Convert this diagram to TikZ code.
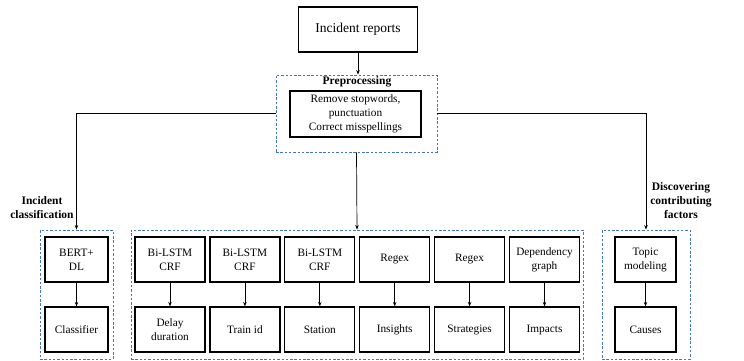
\documentclass[tikz,border=0pt]{standalone}
\usepackage{fontspec}
\setmainfont{Liberation Serif}
\usetikzlibrary{arrows.meta}
\definecolor{dashblue}{RGB}{68,114,196}
\tikzset{
  base/.style={font=\fontsize{11.3}{14}\selectfont, align=center, inner sep=0pt},
  box/.style={base, draw=black, line width=1.2pt, minimum height=45pt},
  grp/.style={draw=dashblue, line width=0.9pt, dash pattern=on 2.5pt off 1.8pt, inner sep=0pt},
  lbl/.style={base, font=\fontsize{11.5}{14}\selectfont\bfseries},
  arr/.style={draw=black, line width=0.7pt, -{Stealth[length=4.5pt,width=3.5pt]}},
  ln/.style={draw=black, line width=0.7pt}
}
\begin{document}
\begin{tikzpicture}[x=1pt,y=-1pt]
\useasboundingbox (0,0) rectangle (744,360);
% top
\node[box, minimum width=119pt, font=\fontsize{13.5}{16}\selectfont] (rep) at (358,29.5) {Incident reports};
\node[grp, minimum width=161pt, minimum height=77pt] (pre) at (356.5,113.5) {};
\node[lbl] (prelbl) at (357,82) {Preprocessing};
\node[box, minimum width=131pt, minimum height=46pt] (pin) at (355.5,114) {Remove stopwords,\\punctuation\\Correct misspellings};
\draw[arr] (rep.south) -- (pre.north -| rep.south);
% groups
\node[grp, minimum width=73pt, minimum height=129pt] (gl) at (76.5,294.5) {};
\node[grp, minimum width=452pt, minimum height=129pt] (gm) at (357,294.5) {};
\node[grp, minimum width=88pt, minimum height=129pt] (gr) at (646,294.5) {};
\draw[arr] (pre.west) -| (gl.north);
\draw[arr] (pre.east) -| (gr.north);
\draw[arr] (pre.south) -- (gm.north);
\node[lbl] (lcls) at (42,207.5) {Incident\\classification};
\node[lbl] (ldis) at (681,200.5) {Discovering\\contributing\\factors};
% left group
\node[box, minimum width=63pt] (bert) at (76.5,259.5) {BERT+\\DL};
\node[box, minimum width=63pt] (clf) at (76.5,329.5) {Classifier};
\draw[arr] (bert.south) -- (clf.north);
% middle group
\node[box, minimum width=70pt] (t1) at (170,259.5) {Bi-LSTM\\CRF};
\node[box, minimum width=70pt] (t2) at (244.9,259.5) {Bi-LSTM\\CRF};
\node[box, minimum width=70pt] (t3) at (319.8,259.5) {Bi-LSTM\\CRF};
\node[box, minimum width=70pt] (t4) at (394.7,259.5) {Regex};
\node[box, minimum width=70pt] (t5) at (469.6,259.5) {Regex};
\node[box, minimum width=70pt] (t6) at (544.5,259.5) {Dependency\\graph};
\node[box, minimum width=70pt] (b1) at (170,329.5) {Delay\\duration};
\node[box, minimum width=70pt] (b2) at (244.9,329.5) {Train id};
\node[box, minimum width=70pt] (b3) at (319.8,329.5) {Station};
\node[box, minimum width=70pt] (b4) at (394.7,329.5) {Insights};
\node[box, minimum width=70pt] (b5) at (469.6,329.5) {Strategies};
\node[box, minimum width=70pt] (b6) at (544.5,329.5) {Impacts};
\foreach \i in {1,...,6} {\draw[arr] (t\i.south) -- (b\i.north);}
% right group
\node[box, minimum width=61pt] (topic) at (645.5,259.5) {Topic\\modeling};
\node[box, minimum width=61pt] (cause) at (645.5,329.5) {Causes};
\draw[arr] (topic.south) -- (cause.north);
\end{tikzpicture}
\end{document}
